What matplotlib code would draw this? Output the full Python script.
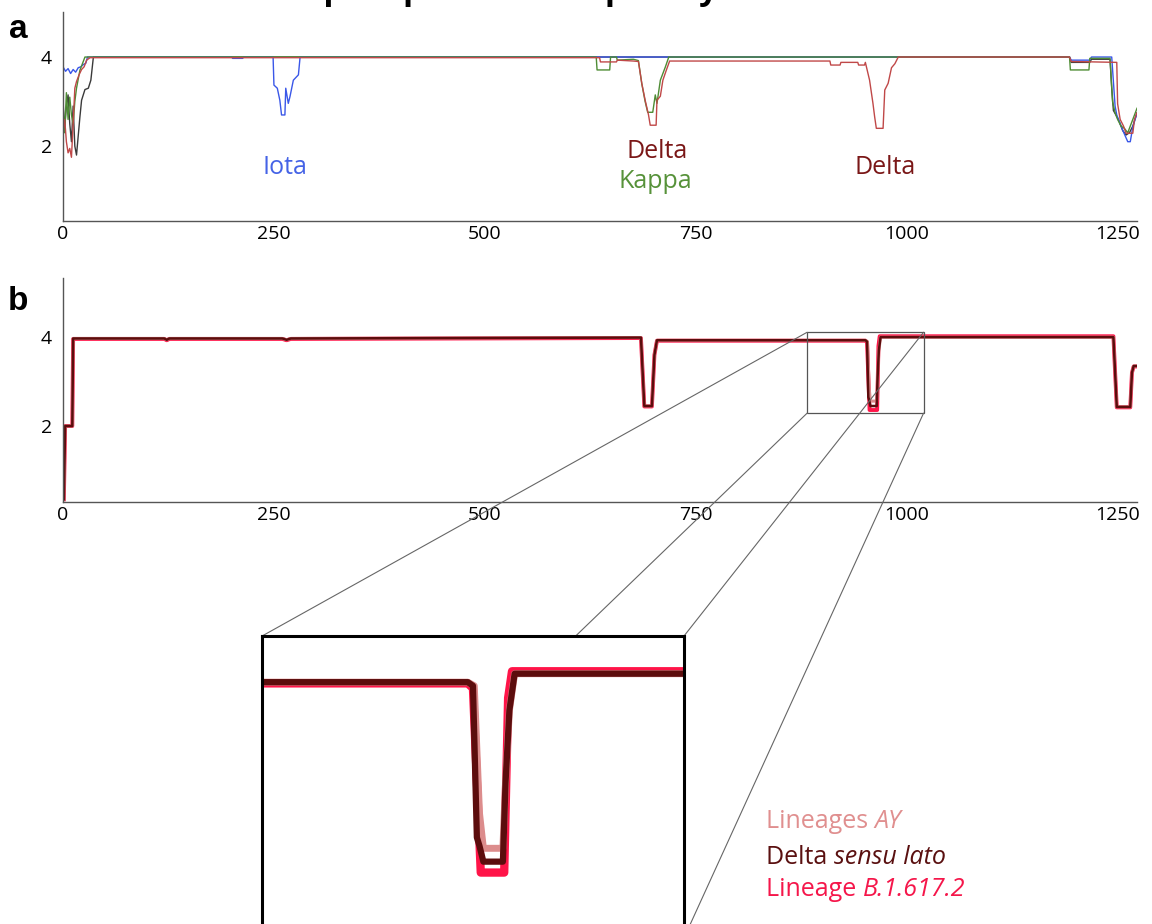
import matplotlib
matplotlib.use("Agg")
import matplotlib.pyplot as plt
from matplotlib.patches import Rectangle, ConnectionPatch

plt.rcParams["font.family"] = ["Open Sans", "DejaVu Sans"]

SPIKE_LEN = 1273

# --- panel a : variants of concern / interest (breakpoints along the spike) ---
iota_x = [0, 3, 6, 9, 12, 15, 18, 21, 24, 27, 29, 200, 201, 213, 214,
          249, 250, 254, 257, 259, 263, 264, 267, 269, 273, 279, 281,
          1193, 1195, 1217, 1219, 1243, 1247, 1249, 1256, 1262, 1265, 1268, 1273]
iota_y = [3.78, 3.68, 3.74, 3.63, 3.72, 3.66, 3.76, 3.78, 3.83, 3.86, 4.0, 4.0, 3.97, 3.97, 4.0,
          4.0, 3.37, 3.30, 3.03, 2.70, 2.70, 3.30, 2.96, 3.11, 3.48, 3.60, 4.0,
          4.0, 3.93, 3.93, 4.0, 4.0, 2.9, 2.7, 2.36, 2.10, 2.10, 2.43, 2.74]

kappa_x = [0, 2, 4, 6, 8, 10, 12, 14, 16, 18, 20, 23, 26,
           632, 633, 648, 649, 656, 657, 676, 682, 686, 690, 693, 699, 702, 704, 708, 714, 718,
           1193, 1194, 1216, 1217, 1241, 1244, 1247, 1250, 1254, 1258, 1262, 1265, 1268, 1273]
kappa_y = [2.9, 2.3, 3.2, 2.6, 3.1, 2.7, 2.5, 3.0, 3.3, 3.5, 3.7, 3.85, 4.0,
           4.0, 3.71, 3.71, 4.0, 4.0, 3.93, 3.95, 3.92, 3.4, 3.0, 2.76, 2.76, 3.15, 2.96, 3.48, 3.78, 4.0,
           4.0, 3.71, 3.71, 3.97, 3.97, 3.0, 2.75, 2.6, 2.45, 2.4, 2.3, 2.45, 2.6, 2.85]

delta_a_x = [0, 2, 4, 6, 8, 10, 12, 14, 16, 19, 22, 25, 28, 32,
             636, 637, 656, 657, 676, 682, 686, 690, 694, 696, 703, 704, 708, 711, 715, 719,
             909, 910, 921, 922, 942, 943, 950, 951, 952, 956, 960, 962, 964, 972, 974, 978, 982, 986, 990,
             1193, 1195, 1249, 1250, 1253, 1257, 1260, 1268, 1270, 1273]
delta_a_y = [2.35, 2.6, 2.1, 1.85, 1.95, 1.75, 2.5, 3.3, 3.45, 3.6, 3.72, 3.78, 3.93, 3.985,
             3.985, 3.89, 3.89, 3.93, 3.91, 3.9, 3.41, 3.03, 2.7, 2.47, 2.47, 3.03, 3.12, 3.48, 3.7, 3.91,
             3.91, 3.82, 3.82, 3.88, 3.88, 3.82, 3.82, 3.88, 3.8, 3.48, 2.96, 2.66, 2.40, 2.40, 3.26, 3.41, 3.76, 3.85, 4.0,
             4.0, 3.9, 3.88, 2.95, 2.6, 2.45, 2.29, 2.29, 2.6, 2.75]

other_x = [0, 2, 4, 6, 8, 10, 12, 14, 16, 20, 22, 26, 30, 33, 36,
           1193, 1195, 1217, 1219, 1241, 1243, 1245, 1248, 1252, 1256, 1260, 1264, 1268, 1273]
other_y = [3.0, 2.4, 2.9, 3.15, 2.5, 2.1, 2.9, 2.0, 1.8, 2.65, 3.03, 3.27, 3.3, 3.48, 4.0,
           4.0, 3.88, 3.88, 3.95, 3.95, 3.3, 2.8, 2.7, 2.55, 2.35, 2.25, 2.3, 2.45, 2.75]

# --- panel b : Delta lineages ---
sl_x = [1, 2.5, 11, 12, 120, 123, 126, 260, 265, 270, 685, 689, 698, 701, 704,
        951, 953, 954.5, 955.5, 957, 964.5, 965.5, 967, 969, 1245, 1249, 1265, 1267, 1269, 1273]
sl_y = [0.35, 2.0, 2.0, 3.97, 3.97, 3.94, 3.97, 3.97, 3.94, 3.97, 3.99, 2.45, 2.45, 3.6, 3.93,
        3.93, 3.9, 2.65, 2.58, 2.45, 2.45, 3.1, 3.7, 4.0, 4.0, 2.43, 2.43, 3.2, 3.35, 3.35]

ay_x = [1, 2.5, 11, 12, 120, 123, 126, 260, 265, 270, 685, 689, 698, 701, 704,
        951, 953.5, 955.5, 957, 964.5, 965.5, 967, 969, 1245, 1249, 1265, 1267, 1269, 1273]
ay_y = [0.35, 2.0, 2.0, 3.97, 3.97, 3.94, 3.97, 3.97, 3.94, 3.97, 3.99, 2.45, 2.45, 3.6, 3.93,
        3.93, 3.9, 2.85, 2.56, 2.56, 3.1, 3.7, 4.0, 4.0, 2.43, 2.43, 3.2, 3.35, 3.35]

b16172_x = [1, 2.5, 11, 12, 120, 123, 126, 260, 265, 270, 685, 689, 698, 701, 704,
            951, 953, 956, 965, 966.5, 968, 1245, 1249, 1265, 1267, 1269, 1273]
b16172_y = [0.35, 2.0, 2.0, 3.96, 3.96, 3.93, 3.96, 3.96, 3.93, 3.96, 3.98, 2.44, 2.44, 3.6, 3.92,
            3.92, 3.88, 2.36, 2.36, 3.8, 4.02, 4.02, 2.42, 2.42, 3.2, 3.34, 3.34]

x_ticks = [0, 250, 500, 750, 1000, 1250]
y_ticks = [2, 4]

# zoomed window (residues, score)
zoom_box = (882, 1020, 2.29, 4.11)

# legend rows: (plain part, italic part, colour)
legend_rows = [("Lineages ", "AY", "#e08f8f"),
               ("Delta ", "sensu lato", "#5a1010"),
               ("Lineage ", "B.1.617.2", "#f5164a")]


def style_axis(ax, ylo, yhi):
    ax.set_xlim(0, SPIKE_LEN)
    ax.set_ylim(ylo, yhi)
    ax.set_xticks(x_ticks)
    ax.set_yticks(y_ticks)
    for side in ("top", "right"):
        ax.spines[side].set_visible(False)
    for side in ("left", "bottom"):
        ax.spines[side].set_color("#555555")
        ax.spines[side].set_linewidth(1.0)
    ax.tick_params(axis="x", length=0, pad=3, labelsize=14)
    ax.tick_params(axis="y", length=0, pad=8, labelsize=14)


fig = plt.figure(figsize=(11.52, 9.24), dpi=100)

# panel a
ax_a = fig.add_axes([0.0547, 0.7608, 0.9323, 0.2262])
style_axis(ax_a, 0.32, 5.01)
ax_a.plot(other_x, other_y, color="#3a3a3a", lw=1.0)
ax_a.plot(iota_x, iota_y, color="#3a57e8", lw=1.0)
ax_a.plot(kappa_x, kappa_y, color="#4e8c34", lw=1.0)
ax_a.plot(delta_a_x, delta_a_y, color="#c04848", lw=1.0)

ax_a.text(263, 1.51, "Iota", color="#4563e6", fontsize=18, ha="center", va="center")
ax_a.text(704, 1.87, "Delta", color="#7a1717", fontsize=18, ha="center", va="center")
ax_a.text(702, 1.21, "Kappa", color="#57923a", fontsize=18, ha="center", va="center")
ax_a.text(974, 1.51, "Delta", color="#7a1717", fontsize=18, ha="center", va="center")

# panel b
ax_b = fig.add_axes([0.0547, 0.4567, 0.9323, 0.2424])
style_axis(ax_b, 0.29, 5.33)
ax_b.plot(b16172_x, b16172_y, color="#ff1448", lw=2.8)
ax_b.plot(ay_x, ay_y, color="#dc8c8c", lw=2.2)
ax_b.plot(sl_x, sl_y, color="#5c0d0d", lw=1.8)

x0, x1, y0, y1 = zoom_box
ax_b.add_patch(Rectangle((x0, y0), x1 - x0, y1 - y0, fill=False,
                         ec="#555555", lw=0.9, clip_on=False, zorder=5))

# enlarged view of the second Delta dip
ax_in = fig.add_axes([0.2274, -0.0152, 0.3663, 0.3268])
ax_in.set_zorder(3)
ax_in.set_facecolor("white")
ax_in.plot(b16172_x, b16172_y, color="#ff1448", lw=6.0, solid_joinstyle="round")
ax_in.plot(ay_x, ay_y, color="#dc8c8c", lw=5.0, solid_joinstyle="round")
ax_in.plot(sl_x, sl_y, color="#5c0d0d", lw=4.5, solid_joinstyle="round")
ax_in.set_xlim(872, 1034)
ax_in.set_ylim(1.82, 4.31)
ax_in.set_xticks([])
ax_in.set_yticks([])
for sp in ax_in.spines.values():
    sp.set_color("black")
    sp.set_linewidth(2.2)

# frustum lines from the box to the enlarged view
corners = [((x0, y1), (0, 1)), ((x1, y1), (1, 1)),
           ((x0, y0), (0, 0)), ((x1, y0), (1, 0))]
for box_pt, in_pt in corners:
    con = ConnectionPatch(xyA=box_pt, coordsA=ax_b.transData,
                          xyB=in_pt, coordsB=ax_in.transAxes,
                          color="#666666", lw=0.8)
    con.set_zorder(2)
    fig.add_artist(con)

# panel letters and title
fig.text(18 / 1152, 1 - 29 / 924, "a", fontsize=24, weight="bold",
         family="Liberation Sans", ha="center", va="center")
fig.text(18 / 1152, 1 - 302 / 924, "b", fontsize=24, weight="bold",
         family="Liberation Sans", ha="center", va="center")
fig.text(0.444, 1 + 1.0 / 924, "Spike protein complexity", fontsize=24, weight="bold",
         ha="center", va="baseline")

# legend for the lineages: plain word followed by italic name
fig.canvas.draw()
renderer = fig.canvas.get_renderer()
row_y = [822, 857, 890]
for (plain, ital, col), ypx in zip(legend_rows, row_y):
    yf = 1 - ypx / 924
    t = fig.text(766 / 1152, yf, plain, color=col, fontsize=18, ha="left", va="center")
    bb = t.get_window_extent(renderer)
    fig.text(bb.x1 / fig.bbox.width, yf, ital, color=col, fontsize=18,
             style="italic", ha="left", va="center")

fig.savefig("out.png", dpi=100)
